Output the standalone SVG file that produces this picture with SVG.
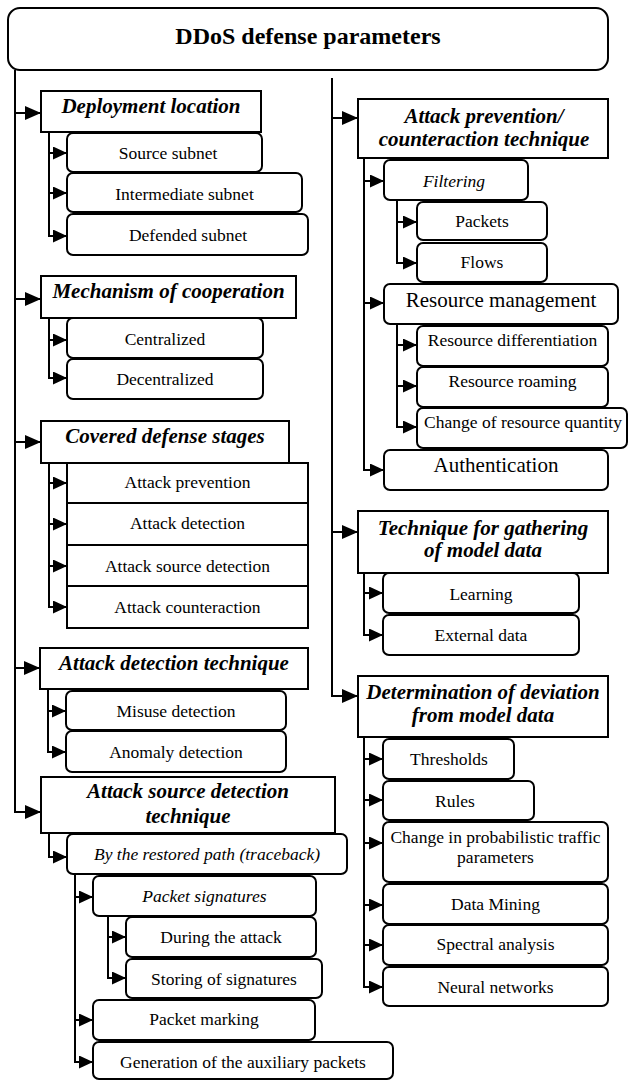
<svg xmlns="http://www.w3.org/2000/svg" width="629" height="1081" viewBox="0 0 629 1081">
<defs>
  <marker id="ah" markerUnits="userSpaceOnUse" markerWidth="16" markerHeight="14" refX="16" refY="7" orient="auto">
    <path d="M0,0 L16,7 L0,14 z" fill="#000"/>
  </marker>
  <marker id="ahs" markerUnits="userSpaceOnUse" markerWidth="14" markerHeight="13" refX="14" refY="6.5" orient="auto">
    <path d="M0,0 L14,6.5 L0,13 z" fill="#000"/>
  </marker>
  <style>
    .box{fill:#fff;stroke:#000;stroke-width:2}
    .t{font-family:"Liberation Serif","Times New Roman",serif;text-anchor:middle;fill:#000}
    .title{font-size:24px;font-weight:bold}
    .h{font-size:21px;font-weight:bold;font-style:italic}
    .c{font-size:17.5px}
    .ci{font-size:17.5px;font-style:italic}
    .big{font-size:21px}
    .wire{fill:none;stroke:#000;stroke-width:2}
    .mb{fill:none;stroke:#000;stroke-width:2;marker-end:url(#ah)}
    .br{fill:none;stroke:#000;stroke-width:2;marker-end:url(#ahs)}
  </style>
</defs>
<rect width="629" height="1081" fill="#fff"/>

<g id="nodes">
  <g id="root"><rect class="box" x="8" y="8" width="600" height="62" rx="12"/><text class="t title" x="308" y="44">DDoS defense parameters</text></g>

  <!-- left column -->
  <g id="deployment"><rect class="box" x="41" y="91" width="220" height="41"/><text class="t h" x="151" y="113">Deployment location</text></g>
  <g id="dep-source"><rect class="box" x="67" y="133" width="195" height="39" rx="6"/><text class="t c" x="168" y="159">Source subnet</text></g>
  <g id="dep-intermediate"><rect class="box" x="67" y="173" width="235" height="39" rx="6"/><text class="t c" x="184.5" y="200">Intermediate subnet</text></g>
  <g id="dep-defended"><rect class="box" x="67" y="214" width="241" height="41" rx="6"/><text class="t c" x="188" y="241">Defended subnet</text></g>

  <g id="cooperation"><rect class="box" x="41" y="276" width="255" height="42"/><text class="t h" x="168.5" y="298">Mechanism of cooperation</text></g>
  <g id="coop-central"><rect class="box" x="67" y="318" width="196" height="40" rx="6"/><text class="t c" x="165" y="345">Centralized</text></g>
  <g id="coop-decentral"><rect class="box" x="67" y="359" width="196" height="40" rx="6"/><text class="t c" x="165" y="385">Decentralized</text></g>

  <g id="stages"><rect class="box" x="41" y="421" width="248" height="42"/><text class="t h" x="165" y="443">Covered defense stages</text></g>
  <g id="stage-prevention"><rect class="box" x="67" y="463" width="241" height="40"/><text class="t c" x="187.5" y="488">Attack prevention</text></g>
  <g id="stage-detection"><rect class="box" x="67" y="503" width="241" height="42"/><text class="t c" x="187.5" y="529">Attack detection</text></g>
  <g id="stage-source"><rect class="box" x="67" y="545" width="241" height="41"/><text class="t c" x="187.5" y="572">Attack source detection</text></g>
  <g id="stage-counter"><rect class="box" x="67" y="586" width="241" height="42"/><text class="t c" x="187.5" y="613">Attack counteraction</text></g>

  <g id="detection"><rect class="box" x="40" y="648" width="268" height="41"/><text class="t h" x="174" y="670">Attack detection technique</text></g>
  <g id="det-misuse"><rect class="box" x="66" y="691" width="220" height="39" rx="6"/><text class="t c" x="176" y="717">Misuse detection</text></g>
  <g id="det-anomaly"><rect class="box" x="66" y="731" width="220" height="41" rx="6"/><text class="t c" x="176" y="758">Anomaly detection</text></g>

  <g id="source-detection"><rect class="box" x="41" y="777" width="294" height="56"/><text class="t h" x="188" y="798">Attack source detection</text><text class="t h" x="188" y="823">technique</text></g>
  <g id="traceback"><rect class="box" x="67" y="834" width="280" height="40" rx="6"/><text class="t ci" x="207" y="860">By the restored path (traceback)</text></g>
  <g id="signatures"><rect class="box" x="93" y="876" width="223" height="40" rx="6"/><text class="t ci" x="204.5" y="902">Packet signatures</text></g>
  <g id="sig-during"><rect class="box" x="126" y="917" width="190" height="40" rx="6"/><text class="t c" x="221" y="943">During the attack</text></g>
  <g id="sig-storing"><rect class="box" x="126" y="959" width="196" height="39" rx="6"/><text class="t c" x="224" y="985">Storing of signatures</text></g>
  <g id="marking"><rect class="box" x="93" y="1000" width="222" height="40" rx="6"/><text class="t c" x="204" y="1025">Packet marking</text></g>
  <g id="auxiliary"><rect class="box" x="93" y="1042" width="300" height="37" rx="6"/><text class="t c" x="243" y="1068">Generation of the auxiliary packets</text></g>

  <!-- right column -->
  <g id="counteraction"><rect class="box" x="358" y="99" width="250" height="59"/><text class="t h" x="484" y="123">Attack prevention/</text><text class="t h" x="484" y="146">counteraction technique</text></g>
  <g id="filtering"><rect class="box" x="384" y="160" width="144" height="40" rx="6"/><text class="t ci" x="454" y="187">Filtering</text></g>
  <g id="flt-packets"><rect class="box" x="417" y="202" width="130" height="38" rx="6"/><text class="t c" x="482" y="227">Packets</text></g>
  <g id="flt-flows"><rect class="box" x="417" y="243" width="130" height="39" rx="6"/><text class="t c" x="482" y="268">Flows</text></g>
  <g id="resource-mgmt"><rect class="box" x="384" y="284" width="234" height="40" rx="6"/><text class="t big" x="501" y="307">Resource management</text></g>
  <g id="res-diff"><rect class="box" x="417" y="326" width="191" height="40" rx="6"/><text class="t c" x="512.5" y="346">Resource differentiation</text></g>
  <g id="res-roaming"><rect class="box" x="417" y="367" width="191" height="40" rx="6"/><text class="t c" x="512.5" y="387">Resource roaming</text></g>
  <g id="res-quantity"><rect class="box" x="417" y="408" width="210" height="40" rx="6"/><text class="t c" x="523" y="428">Change of resource quantity</text></g>
  <g id="authentication"><rect class="box" x="384" y="450" width="224" height="40" rx="6"/><text class="t big" x="496" y="472">Authentication</text></g>

  <g id="gathering"><rect class="box" x="358" y="511" width="250" height="62"/><text class="t h" x="483" y="535">Technique for gathering</text><text class="t h" x="483" y="557">of model data</text></g>
  <g id="learning"><rect class="box" x="383" y="573" width="196" height="40" rx="6"/><text class="t c" x="481" y="600">Learning</text></g>
  <g id="external"><rect class="box" x="383" y="615" width="196" height="40" rx="6"/><text class="t c" x="481" y="641">External data</text></g>

  <g id="deviation"><rect class="box" x="358" y="676" width="250" height="61"/><text class="t h" x="483" y="699">Determination of deviation</text><text class="t h" x="483" y="722">from model data</text></g>
  <g id="thresholds"><rect class="box" x="383" y="739" width="131" height="40" rx="6"/><text class="t c" x="449" y="765">Thresholds</text></g>
  <g id="rules"><rect class="box" x="383" y="781" width="151" height="39" rx="6"/><text class="t c" x="455" y="807">Rules</text></g>
  <g id="probabilistic"><rect class="box" x="383" y="822" width="225" height="60" rx="6"/><text class="t c" x="495.5" y="843">Change in probabilistic traffic</text><text class="t c" x="495.5" y="863">parameters</text></g>
  <g id="data-mining"><rect class="box" x="383" y="884" width="225" height="40" rx="6"/><text class="t c" x="495.5" y="910">Data Mining</text></g>
  <g id="spectral"><rect class="box" x="383" y="925" width="225" height="40" rx="6"/><text class="t c" x="495.5" y="950">Spectral analysis</text></g>
  <g id="neural"><rect class="box" x="383" y="967" width="225" height="39" rx="6"/><text class="t c" x="495.5" y="993">Neural networks</text></g>
</g>

<g id="connectors">
  <!-- left trunk -->
  <path class="mb" d="M15,70 V812 H41"/>
  <path class="mb" d="M15,113 H41"/>
  <path class="mb" d="M15,299 H41"/>
  <path class="mb" d="M15,442 H41"/>
  <path class="mb" d="M15,668 H40"/>
  <!-- right trunk -->
  <path class="mb" d="M332,78 V696 H358"/>
  <path class="mb" d="M332,118 H358"/>
  <path class="mb" d="M332,532 H358"/>

  <!-- deployment location -->
  <path class="br" d="M49,132 V236 H67"/>
  <path class="br" d="M49,153 H67"/>
  <path class="br" d="M49,193 H67"/>
  <!-- cooperation -->
  <path class="br" d="M49,318 V378 H67"/>
  <path class="br" d="M49,340 H67"/>
  <!-- defense stages -->
  <path class="br" d="M49,463 V607 H67"/>
  <path class="br" d="M49,483 H67"/>
  <path class="br" d="M49,524 H67"/>
  <path class="br" d="M49,566 H67"/>
  <!-- detection technique -->
  <path class="br" d="M48,689 V752 H66"/>
  <path class="br" d="M48,711 H66"/>
  <!-- source detection -->
  <path class="br" d="M49,833 V857 H67"/>
  <path class="br" d="M75,874 V1062 H93"/>
  <path class="br" d="M75,897 H93"/>
  <path class="br" d="M75,1020 H93"/>
  <path class="br" d="M108,916 V978 H126"/>
  <path class="br" d="M108,937 H126"/>

  <!-- prevention / counteraction -->
  <path class="br" d="M364,158 V470 H384"/>
  <path class="br" d="M364,181 H384"/>
  <path class="br" d="M364,303 H384"/>
  <path class="br" d="M397,200 V263 H417"/>
  <path class="br" d="M397,222 H417"/>
  <path class="br" d="M397,324 V427 H417"/>
  <path class="br" d="M397,345 H417"/>
  <path class="br" d="M397,386 H417"/>
  <!-- gathering -->
  <path class="br" d="M364,573 V635 H383"/>
  <path class="br" d="M364,593 H383"/>
  <!-- deviation -->
  <path class="br" d="M364,737 V987 H383"/>
  <path class="br" d="M364,759 H383"/>
  <path class="br" d="M364,800 H383"/>
  <path class="br" d="M364,843 H383"/>
  <path class="br" d="M364,905 H383"/>
  <path class="br" d="M364,945 H383"/>
</g>
</svg>
